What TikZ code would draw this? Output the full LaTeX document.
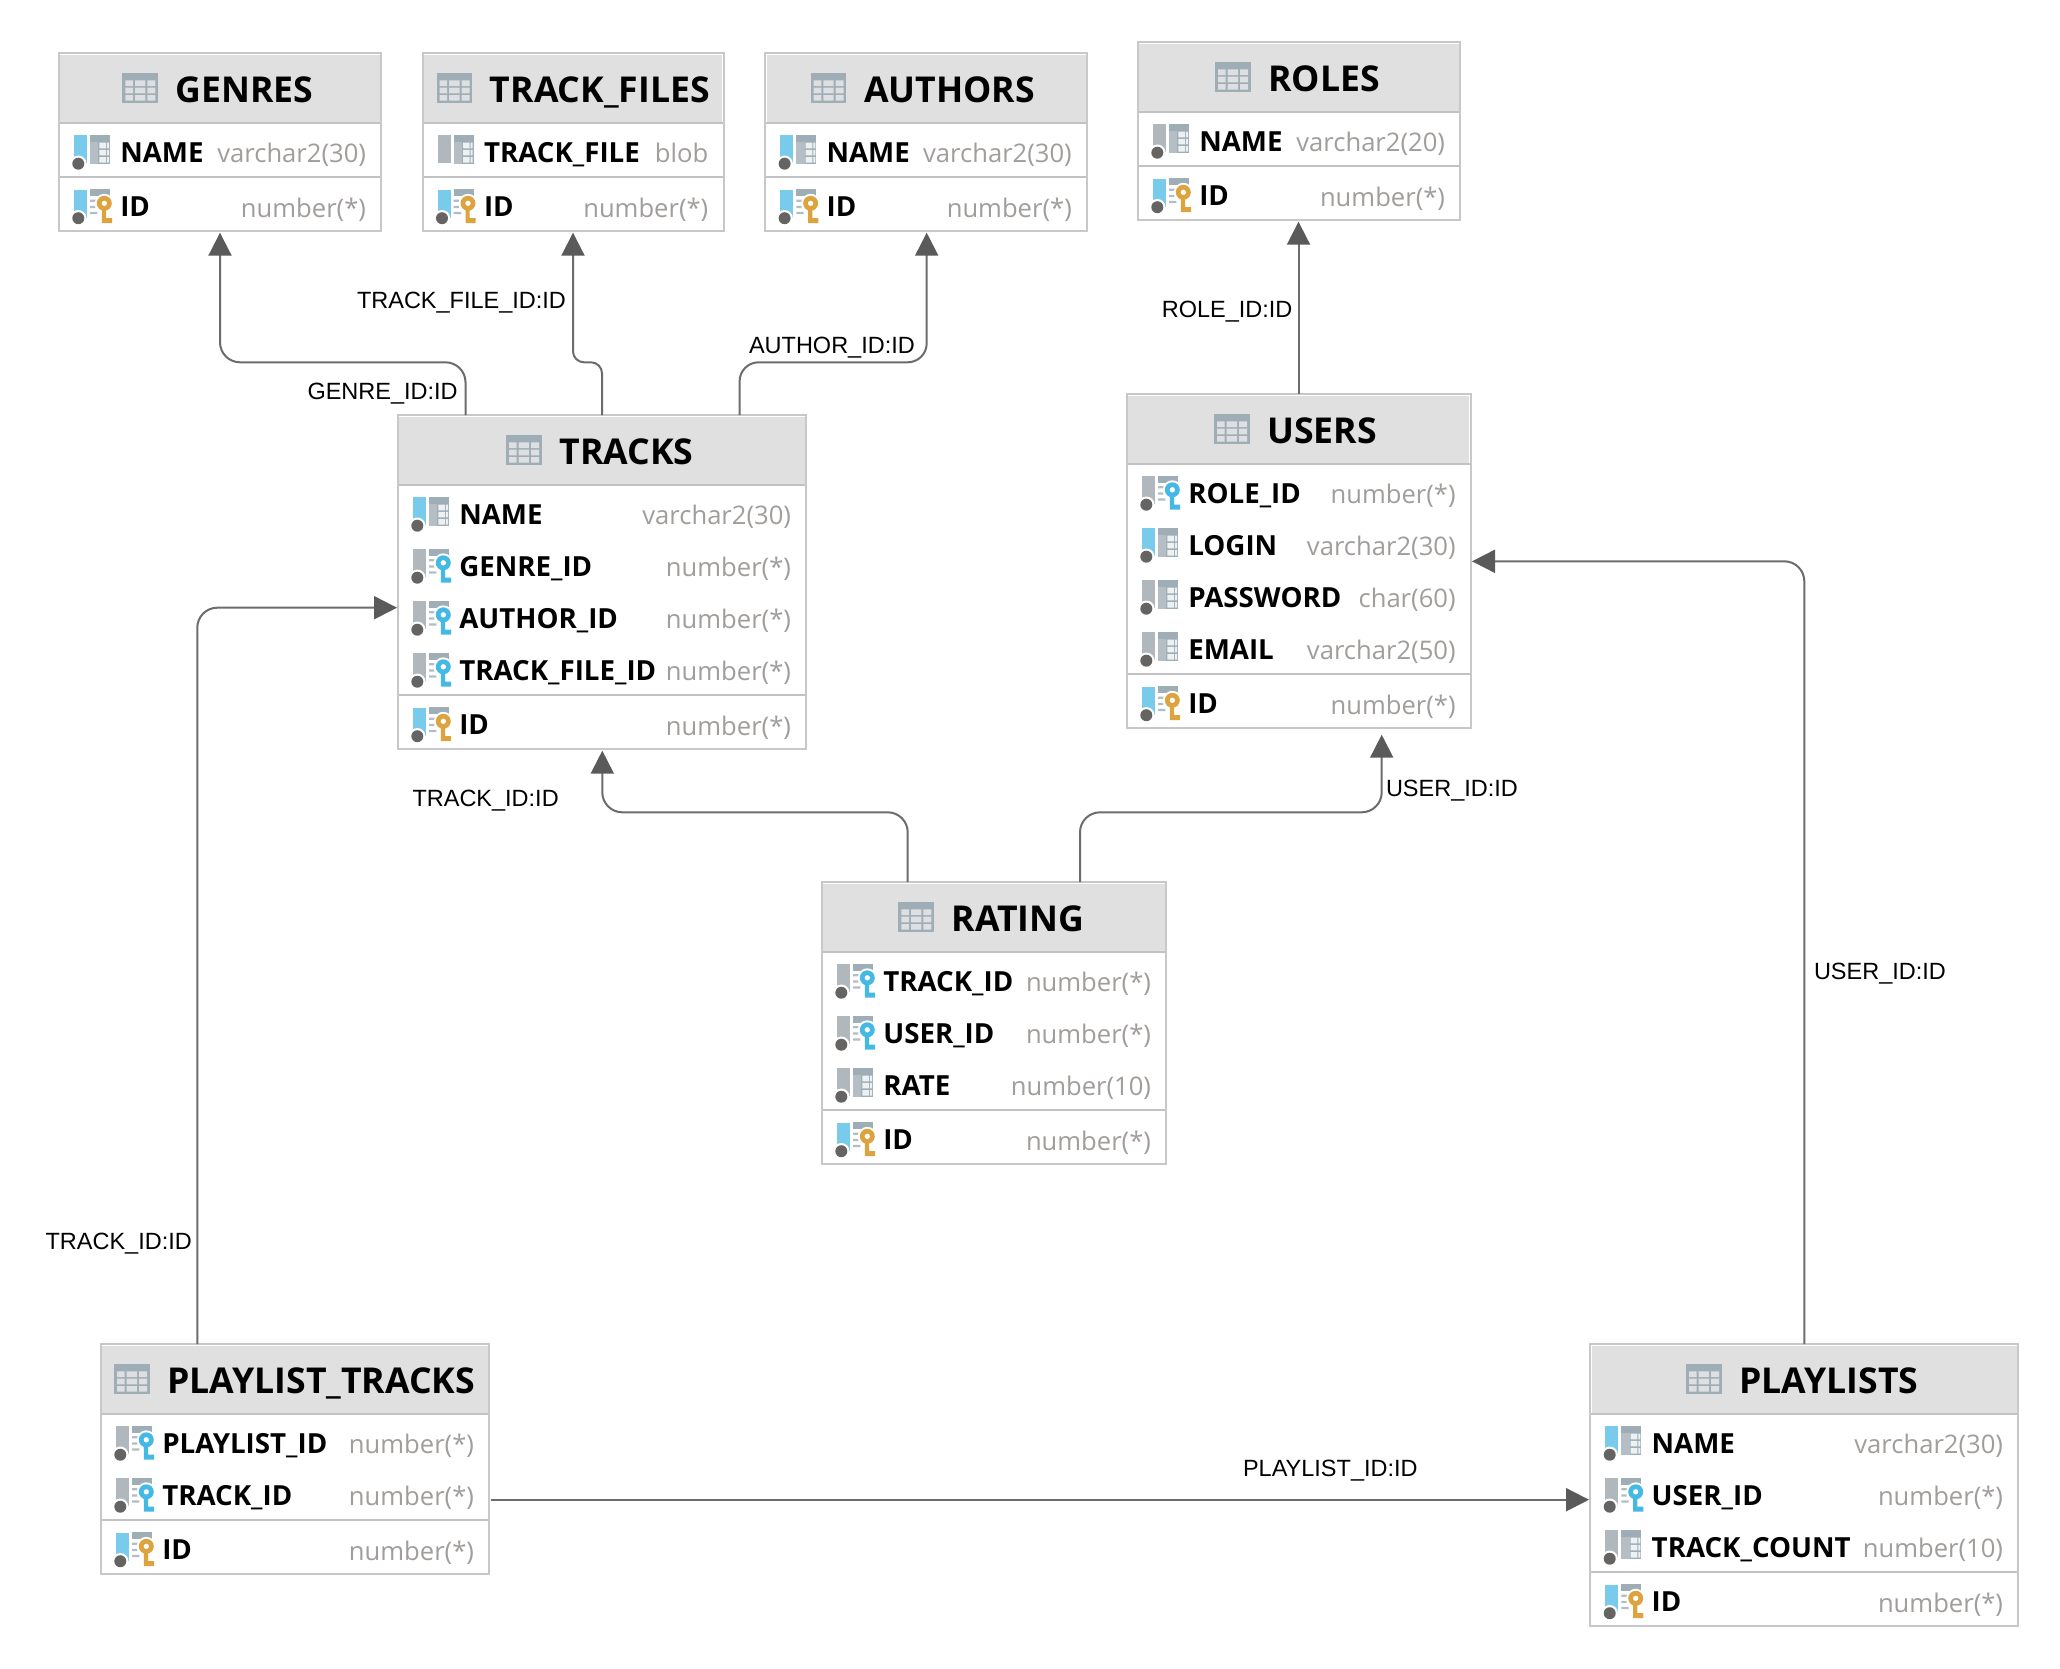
\documentclass[tikz,border=0pt]{standalone}
\usepackage{fontspec}
\usetikzlibrary{arrows.meta}
\newfontfamily\uifont{Open Sans}
\newfontfamily\lblfont{Liberation Sans}
\definecolor{boxline}{HTML}{C8C8C8}
\definecolor{headbg}{HTML}{E0E0E0}
\definecolor{headline}{HTML}{C2C2C2}
\definecolor{iconslate}{HTML}{9FADB6}
\definecolor{iconside}{HTML}{B4BEC4}
\definecolor{iconcell}{HTML}{DDDFE0}
\definecolor{iconpale}{HTML}{EEF1F2}
\definecolor{barblue}{HTML}{79CBEB}
\definecolor{bargray}{HTML}{B0B8BD}
\definecolor{dotgray}{HTML}{666462}
\definecolor{keygold}{HTML}{DCA33F}
\definecolor{keyblue}{HTML}{44B9E6}
\definecolor{typegray}{HTML}{A09D9B}
\definecolor{connline}{HTML}{6C6C6C}
\definecolor{arrowfill}{HTML}{5A5A5A}
\tikzset{
  tablebox/.style={draw=boxline,line width=2pt,fill=white,rectangle,anchor=north west,inner sep=0pt,outer sep=0pt},
  titletext/.style={inner sep=0pt,outer sep=0pt,anchor=base west,font=\uifont\bfseries\fontsize{35.6}{40}\selectfont,text=black},
  nametext/.style={inner sep=0pt,outer sep=0pt,anchor=base west,font=\uifont\bfseries\fontsize{27.7}{32}\selectfont,text=black},
  typetext/.style={inner sep=0pt,outer sep=0pt,anchor=base east,font=\uifont\fontsize{25.6}{30}\selectfont,text=typegray},
  linklabel/.style={inner sep=0pt,outer sep=0pt,anchor=west,font=\lblfont\fontsize{23.5}{28}\selectfont,text=black},
  conn/.style={draw=connline,line width=2pt,-{Triangle[length=23pt,width=23pt,color=arrowfill]}},
  bend/.style={rounded corners=#1pt}
}
% icon parts, drawn relative to (left edge of table, centre of row)
\newcommand\iconbar[2]{%
  \fill[#1] (15.7,-17) rectangle (28.7,11);
  \ifnum#2=1
    \fill[white] (20,11.5) circle (8.2);
    \fill[dotgray] (20,11.5) circle (6);
  \fi}
\newcommand\icongrid{%
  \fill[iconslate] (31.7,-17) rectangle (51.7,12);
  \fill[iconside] (31.7,-10) rectangle (40,12);
  \fill[iconpale] (41,-9.5) rectangle (47.7,-3.8) (41,-2.3) rectangle (47.7,3.2) (41,4.8) rectangle (47.7,10.5);
  \fill[iconpale] (48.7,-9.5) rectangle (50.7,-3.8) (48.7,-2.3) rectangle (50.7,3.2) (48.7,4.8) rectangle (50.7,10.5);}
\newcommand\iconlines{%
  \fill[iconslate] (31.7,-17.7) rectangle (51.7,-10.5);
  \fill[iconslate!80] (31.7,-7) rectangle (39,-4.8) (31.7,-0.8) rectangle (37,1.4) (31.7,5.2) rectangle (39,7.4);}
\newcommand\iconkey[1]{%
  \fill[white] (46,-3.4) circle (9.5);
  \fill[#1,even odd rule] (46,-3.4) circle (7.5) (46,-3.4) circle (2.8);
  \fill[#1] (43.5,3) rectangle (47.7,16.5) (47.7,11.3) rectangle (53.7,16.5);}
\newcommand\kindmand{\iconbar{barblue}{1}\icongrid}
\newcommand\kindopt{\iconbar{bargray}{1}\icongrid}
\newcommand\kindplain{\iconbar{bargray}{0}\icongrid}
\newcommand\kindfk{\iconbar{bargray}{1}\iconlines\iconkey{keyblue}}
\newcommand\kindpk{\iconbar{barblue}{1}\iconlines\iconkey{keygold}}
% id, xL, yTop, xR, attribute rows, title, x of title icon
\newcommand\dbtable[7]{%
  \def\xL{#2}\def\yT{#3}\def\xR{#4}\def\tid{#1}%
  \pgfmathsetmacro\boxW{#4-#2-1}%
  \pgfmathsetmacro\boxH{179+52*(#5-1)-1}%
  \node[tablebox,minimum width=\boxW pt,minimum height=\boxH pt] (#1) at (#2+0.5,#3+0.5) {};
  \fill[headbg] (#2+2,#3+2) rectangle (#4-2,#3+70.5);
  \draw[headline,line width=2pt] (#2+1.5,#3+70.5) -- (#4-1.5,#3+70.5);
  \begin{scope}[shift={(#7,#3+20.6)}]
    \fill[iconslate] (0,0) rectangle (35.5,29.7);
    \fill[iconcell] (3,7) rectangle (10.7,12.7) (12.7,7) rectangle (23,12.7) (25,7) rectangle (33,12.7)
                    (3,14.3) rectangle (10.7,20) (12.7,14.3) rectangle (23,20) (25,14.3) rectangle (33,20)
                    (3,21.7) rectangle (10.7,27.3) (12.7,21.7) rectangle (23,27.3) (25,21.7) rectangle (33,27.3);
  \end{scope}
  \node[titletext] (#1-title) at (#7+53.4,#3+49.3) {#6};
}
% row index from 0, icon kind, name, type
\newcommand\colrow[4]{%
  \pgfmathsetmacro\yC{\yT+99.5+52*(#1)}%
  \begin{scope}[shift={(\xL,\yC)}]#2\end{scope}
  \node[nametext] (\tid-n#1) at (\xL+62,\yC+10.2) {#3};
  \node[typetext] (\tid-t#1) at (\xR-15.7,\yC+10.4) {#4};
}
% number of attribute rows, name, type
\newcommand\idrow[3]{%
  \pgfmathsetmacro\ySep{\yT+99.5+52*(#1-1)+25}%
  \pgfmathsetmacro\yC{\ySep+29.5}%
  \draw[headline,line width=2pt] (\xL+1.5,\ySep) -- (\xR-1.5,\ySep);
  \begin{scope}[shift={(\xL,\yC)}]\kindpk\end{scope}
  \node[nametext] (\tid-nid) at (\xL+62,\yC+10.2) {#2};
  \node[typetext] (\tid-tid) at (\xR-15.7,\yC+10.4) {#3};
}
\begin{document}
\begin{tikzpicture}[x=1pt,y=-1pt]
\useasboundingbox (0,0) rectangle (2060,1668);
\fill[white] (0,0) rectangle (2060,1668);

\dbtable{genres}{58.3}{52.7}{381.7}{1}{GENRES}{122.3}
\colrow{0}{\kindmand}{NAME}{varchar2(30)}
\idrow{1}{ID}{number(*)}

\dbtable{trackfiles}{422}{52.7}{724}{1}{TRACK\_FILES}{436.5}
\colrow{0}{\kindplain}{TRACK\_FILE}{blob}
\idrow{1}{ID}{number(*)}

\dbtable{authors}{764.6}{52.7}{1087.5}{1}{AUTHORS}{810.6}
\colrow{0}{\kindmand}{NAME}{varchar2(30)}
\idrow{1}{ID}{number(*)}

\dbtable{roles}{1137.3}{41.7}{1460.7}{1}{ROLES}{1215}
\colrow{0}{\kindopt}{NAME}{varchar2(20)}
\idrow{1}{ID}{number(*)}

\dbtable{tracks}{397.3}{414.7}{806.7}{4}{TRACKS}{506}
\colrow{0}{\kindmand}{NAME}{varchar2(30)}
\colrow{1}{\kindfk}{GENRE\_ID}{number(*)}
\colrow{2}{\kindfk}{AUTHOR\_ID}{number(*)}
\colrow{3}{\kindfk}{TRACK\_FILE\_ID}{number(*)}
\idrow{4}{ID}{number(*)}

\dbtable{users}{1126.3}{393.7}{1471.3}{4}{USERS}{1214}
\colrow{0}{\kindfk}{ROLE\_ID}{number(*)}
\colrow{1}{\kindmand}{LOGIN}{varchar2(30)}
\colrow{2}{\kindopt}{PASSWORD}{char(60)}
\colrow{3}{\kindopt}{EMAIL}{varchar2(50)}
\idrow{4}{ID}{number(*)}

\dbtable{rating}{821.3}{881.7}{1166.7}{3}{RATING}{898.3}
\colrow{0}{\kindfk}{TRACK\_ID}{number(*)}
\colrow{1}{\kindfk}{USER\_ID}{number(*)}
\colrow{2}{\kindopt}{RATE}{number(10)}
\idrow{3}{ID}{number(*)}

\dbtable{ptracks}{100.3}{1343.7}{489.7}{2}{PLAYLIST\_TRACKS}{114}
\colrow{0}{\kindfk}{PLAYLIST\_ID}{number(*)}
\colrow{1}{\kindfk}{TRACK\_ID}{number(*)}
\idrow{2}{ID}{number(*)}

\dbtable{playlists}{1589.7}{1343.7}{2018.7}{3}{PLAYLISTS}{1686}
\colrow{0}{\kindmand}{NAME}{varchar2(30)}
\colrow{1}{\kindfk}{USER\_ID}{number(*)}
\colrow{2}{\kindopt}{TRACK\_COUNT}{number(10)}
\idrow{3}{ID}{number(*)}

% connectors
\draw[conn,bend=20] ([xshift=67.7pt]tracks.north west) -- ++(0,-52.9) -| ([xshift=161.2pt,yshift=-1.5pt]genres.south west);
\draw[conn,bend=11] ([xshift=204.2pt]tracks.north west) -- ++(0,-52.9) -| ([xshift=150.5pt,yshift=-1.5pt]trackfiles.south west);
\draw[conn,bend=19] ([xshift=341.8pt]tracks.north west) -- ++(0,-52.9) -| ([xshift=161.6pt,yshift=-1.5pt]authors.south west);
\draw[conn] ([xshift=171.7pt]users.north west) -- ([xshift=160.7pt,yshift=-1.5pt]roles.south west);
\draw[conn,bend=20] ([xshift=85.9pt]rating.north west) -- ++(0,-69.9) -| ([xshift=204.5pt,yshift=-1.5pt]tracks.south west);
\draw[conn,bend=20] ([xshift=258.2pt]rating.north west) -- ++(0,-69.9) -| ([xshift=254.9pt,yshift=-6.5pt]users.south west);
\draw[conn,bend=20] ([xshift=214.1pt]playlists.north west) |- ([xshift=1.2pt,yshift=-167.1pt]users.north east);
\draw[conn,bend=20] ([xshift=96.5pt]ptracks.north west) |- ([xshift=-0.8pt,yshift=-192.5pt]tracks.north west);
\draw[conn] ([xshift=1.5pt,yshift=-155.5pt]ptracks.north east) -- ([xshift=-1.2pt,yshift=-155.5pt]playlists.north west);

% connector labels
\node[linklabel] (l-trackfile) at (357,303) {TRACK\_FILE\_ID:ID};
\node[linklabel] (l-genre) at (307.5,393.5) {GENRE\_ID:ID};
\node[linklabel] (l-author) at (749,347.5) {AUTHOR\_ID:ID};
\node[linklabel] (l-role) at (1161.8,311.5) {ROLE\_ID:ID};
\node[linklabel] (l-user1) at (1386,790.5) {USER\_ID:ID};
\node[linklabel] (l-track1) at (412.5,800.5) {TRACK\_ID:ID};
\node[linklabel] (l-user2) at (1814,974) {USER\_ID:ID};
\node[linklabel] (l-track2) at (45.6,1243.5) {TRACK\_ID:ID};
\node[linklabel] (l-playlist) at (1243,1471) {PLAYLIST\_ID:ID};
\end{tikzpicture}
\end{document}
